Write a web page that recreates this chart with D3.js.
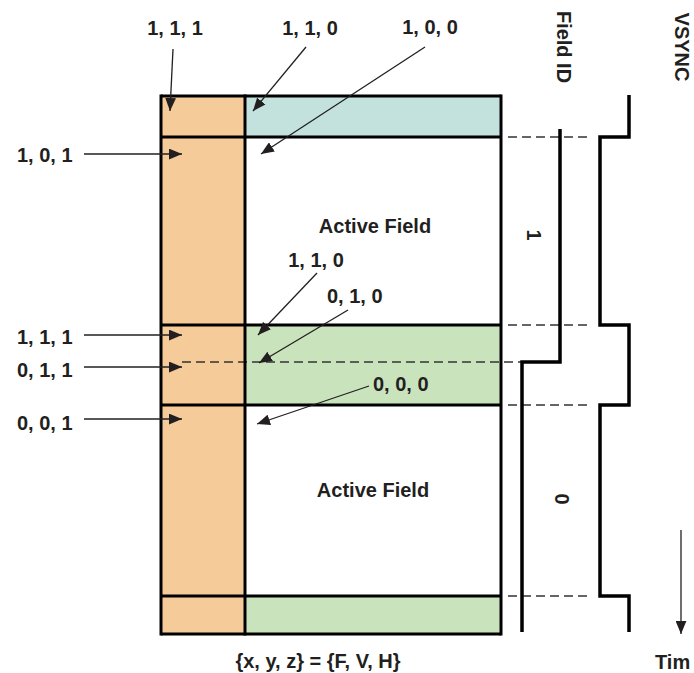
<!DOCTYPE html>
<html>
<head>
<meta charset="utf-8">
<script src="https://cdn.jsdelivr.net/npm/d3@7"></script>
<style>
  html, body { margin: 0; padding: 0; background: #fff; }
  svg { display: block; }
  text { font-family: "Liberation Sans", Arial, sans-serif; font-weight: bold; fill: #231f20; }
</style>
</head>
<body>
<svg id="chart" width="694" height="673"></svg>
<script>
// ---------- data ----------
// frame timeline (line units, top to bottom)
const bandNames   = ["blank1", "active1", "blankA", "blankB", "active2", "blank3"];
const bandStart   = [0, 41, 229, 266, 309, 500];
const bandEnd     = [41, 229, 266, 309, 500, 538];
const bandFill    = ["blue", "none", "green", "green", "none", "green"];
const activeLabels = ["Active Field", "Active Field"];

// signal waveforms: [time, level]
const fieldIdTimes  = [33, 266, 536];
const fieldIdLevels = [1, 0, 0];
const vsyncTimes    = [-1, 41, 229, 309, 500, 536];
const vsyncLevels   = [1, 0, 1, 0, 1, 1];
const fieldValues   = ["1", "0"];

// {F,V,H} code annotations
const codeTexts = ["1, 1, 1", "1, 1, 0", "1, 0, 0", "1, 0, 1", "1, 1, 0", "0, 1, 0", "1, 1, 1", "0, 1, 1", "0, 0, 1", "0, 0, 0"];

const colors = { orange: "#F6CB9A", blue: "#C3E2DE", green: "#C9E4BC", ink: "#231f20" };

// ---------- scales ----------
const svg = d3.select("#chart");
const y = d3.scaleLinear().domain([0, 538]).range([96, 634]);
const x = d3.scaleLinear().domain([0, 340]).range([161, 501]);   // horizontal extent of a line
const hblankEnd = 84;
const fidX = d3.scaleLinear().domain([0, 1]).range([522, 560]);
const vsX  = d3.scaleLinear().domain([0, 1]).range([600, 629]);

// marker
const defs = svg.append("defs");
defs.append("marker").attr("id", "ah")
  .attr("viewBox", "0 0 12 10").attr("refX", 12).attr("refY", 5)
  .attr("markerWidth", 13).attr("markerHeight", 11).attr("markerUnits", "userSpaceOnUse")
  .attr("orient", "auto")
  .append("path").attr("d", "M0,0 L12,5 L0,10 Z").attr("fill", colors.ink);

// ---------- frame ----------
const g = svg.append("g");
g.append("rect").attr("x", x(0)).attr("y", y(0)).attr("width", x(hblankEnd) - x(0)).attr("height", y(538) - y(0))
  .attr("fill", colors.orange);
bandNames.forEach((n, i) => {
  if (bandFill[i] === "none") return;
  g.append("rect").attr("x", x(hblankEnd)).attr("y", y(bandStart[i]))
    .attr("width", x(340) - x(hblankEnd)).attr("height", y(bandEnd[i]) - y(bandStart[i]))
    .attr("fill", colors[bandFill[i]]);
});
g.append("line").attr("x1", 182).attr("x2", fidX(0)).attr("y1", y(266)).attr("y2", y(266))
  .attr("stroke", "#333").attr("stroke-width", 1.3).attr("stroke-dasharray", "9,5");
[0, 41, 229, 309, 500, 538].forEach(t => {
  g.append("line").attr("x1", x(0)).attr("x2", x(340)).attr("y1", y(t)).attr("y2", y(t))
    .attr("stroke", "#000").attr("stroke-width", 3);
});
[0, hblankEnd, 340].forEach(v => {
  g.append("line").attr("x1", x(v)).attr("x2", x(v)).attr("y1", y(0) - 1.5).attr("y2", y(538) + 1.5)
    .attr("stroke", "#000").attr("stroke-width", 3);
});

[41, 229, 309, 500].forEach(t => {
  svg.append("line").attr("x1", 508).attr("x2", 592).attr("y1", y(t)).attr("y2", y(t))
    .attr("stroke", "#333").attr("stroke-width", 1.3).attr("stroke-dasharray", "9,5");
});

[[41, 229], [309, 500]].forEach((r, i) => {
  svg.append("text").attr("x", i === 0 ? 375 : 373).attr("y", i === 0 ? 233 : 497)
    .attr("text-anchor", "middle").attr("font-size", 20).text(activeLabels[i]);
});

// ---------- signals ----------
function stepPath(times, levels, xs) {
  let p = `M${xs(levels[0])},${y(times[0])}`;
  for (let i = 1; i < times.length; i++) {
    p += `L${xs(levels[i - 1])},${y(times[i])}`;
    p += `L${xs(levels[i])},${y(times[i])}`;
  }
  return p;
}
svg.append("path").attr("d", stepPath(fieldIdTimes, fieldIdLevels, fidX))
  .attr("fill", "none").attr("stroke", "#000").attr("stroke-width", 3.5).attr("stroke-linejoin", "miter");
svg.append("path").attr("d", stepPath(vsyncTimes, vsyncLevels, vsX))
  .attr("fill", "none").attr("stroke", "#000").attr("stroke-width", 3.5).attr("stroke-linejoin", "miter");

svg.append("text").attr("transform", "translate(557,47) rotate(90)").attr("text-anchor", "middle")
  .attr("font-size", 20).text("Field ID");
svg.append("text").attr("transform", "translate(675,47) rotate(90)").attr("text-anchor", "middle")
  .attr("font-size", 20).text("VSYNC");
svg.append("text").attr("transform", `translate(527,${y(139)}) rotate(90)`).attr("text-anchor", "middle")
  .attr("font-size", 20).text(fieldValues[0]);
svg.append("text").attr("transform", `translate(555,${y(403)}) rotate(90)`).attr("text-anchor", "middle")
  .attr("font-size", 20).text(fieldValues[1]);

// time arrow
svg.append("line").attr("x1", 681).attr("x2", 681).attr("y1", 530).attr("y2", 634)
  .attr("stroke", colors.ink).attr("stroke-width", 1.3).attr("marker-end", "url(#ah)");
svg.append("text").attr("x", 655).attr("y", 669).attr("font-size", 20).text("Tim");

// ---------- annotations ----------
const ann = [
  { lx: 175, ly: 35, a: "middle", s: [173, 49], t: [170, 111] },
  { lx: 310, ly: 35, a: "middle", s: [306, 47], t: [253, 111] },
  { lx: 430, ly: 34, a: "middle", s: [425, 47], t: [261, 154] },
  { lx: 17,  ly: 162, a: "start", s: [84, 154], t: [182, 154] },
  { lx: 316, ly: 267, a: "middle", s: [317, 273], t: [258, 335] },
  { lx: 327, ly: 303, a: "start", s: [348, 310], t: [259, 363] },
  { lx: 17,  ly: 344, a: "start", s: [84, 335], t: [182, 335] },
  { lx: 17,  ly: 377, a: "start", s: [84, 367], t: [182, 367] },
  { lx: 17,  ly: 430, a: "start", s: [84, 419], t: [182, 419] },
  { lx: 373, ly: 391, a: "start", s: [369, 386], t: [257, 424] }
];
ann.forEach((d, i) => {
  svg.append("line").attr("x1", d.s[0]).attr("y1", d.s[1]).attr("x2", d.t[0]).attr("y2", d.t[1])
    .attr("stroke", colors.ink).attr("stroke-width", 1.3).attr("marker-end", "url(#ah)");
  svg.append("text").attr("x", d.lx).attr("y", d.ly).attr("text-anchor", d.a)
    .attr("font-size", 20).text(codeTexts[i]);
});

svg.append("text").attr("x", 318).attr("y", 668).attr("text-anchor", "middle")
  .attr("font-size", 20).text("{x, y, z} = {F, V, H}");
</script>
</body>
</html>
